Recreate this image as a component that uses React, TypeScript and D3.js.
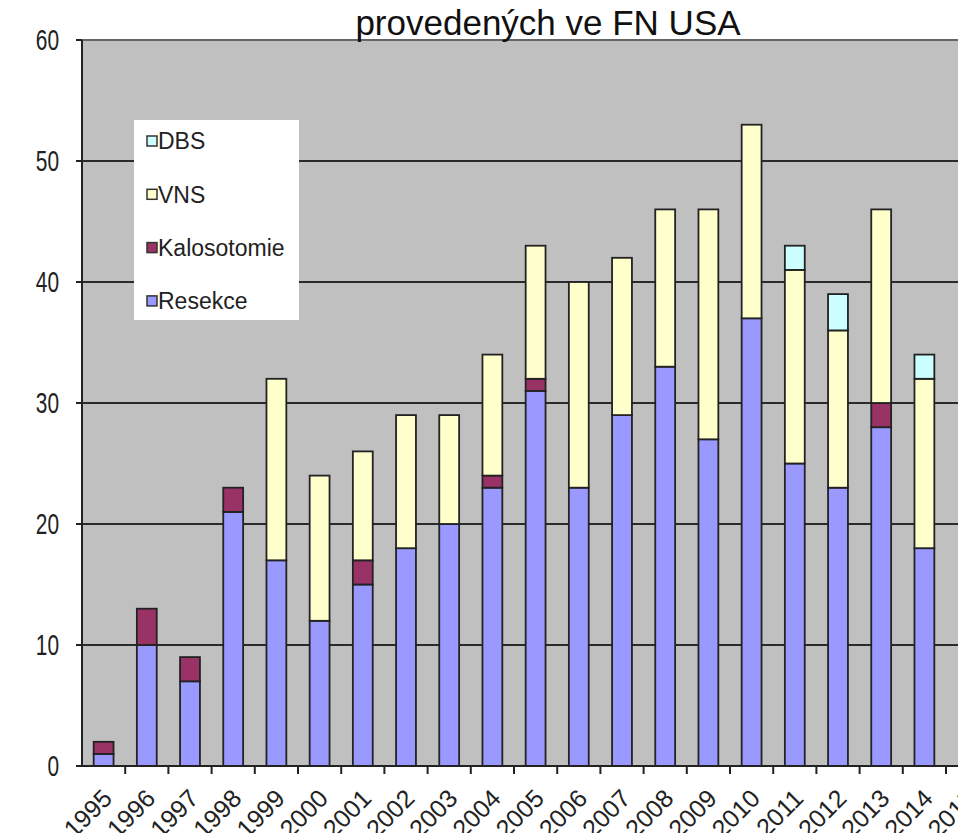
import React from "react";
import * as d3 from "d3";

// categories (2015 only shows as a cut-off label at the right edge)
const years = [
  "1995", "1996", "1997", "1998", "1999", "2000", "2001", "2002", "2003", "2004",
  "2005", "2006", "2007", "2008", "2009", "2010", "2011", "2012", "2013", "2014", "2015",
];

// series values
const resekce = [1, 10, 7, 21, 17, 12, 15, 18, 20, 23, 31, 23, 29, 33, 27, 37, 25, 23, 28, 18];
const kalosotomie = [1, 3, 2, 2, 0, 0, 2, 0, 0, 1, 1, 0, 0, 0, 0, 0, 0, 0, 2, 0];
const vns = [0, 0, 0, 0, 15, 12, 9, 11, 9, 10, 11, 17, 13, 13, 19, 16, 16, 13, 16, 14];
const dbs = [0, 0, 0, 0, 0, 0, 0, 0, 0, 0, 0, 0, 0, 0, 0, 0, 2, 3, 0, 2];

const seriesKeys = ["Resekce", "Kalosotomie", "VNS", "DBS"];
const seriesColors = ["#9999ff", "#993366", "#ffffcc", "#ccffff"];
const legendOrder = ["DBS", "VNS", "Kalosotomie", "Resekce"];

const yTicks = [0, 10, 20, 30, 40, 50, 60];
const title = "provedených ve FN USA";

const W = 958;
const H = 833;
const left = 82;
const top = 40;
const bottom = 766;
const step = 43.2;

export default function App() {
  const rows = resekce.map((_, i) => ({
    year: years[i],
    Resekce: resekce[i],
    Kalosotomie: kalosotomie[i],
    VNS: vns[i],
    DBS: dbs[i],
  }));

  const x = d3
    .scaleBand<string>()
    .domain(years)
    .range([left, left + step * years.length])
    .paddingInner(0.54)
    .paddingOuter(0.27);

  const y = d3.scaleLinear().domain([0, 60]).range([bottom, top]);
  const color = d3.scaleOrdinal<string, string>().domain(seriesKeys).range(seriesColors);

  const stacked = d3.stack<any>().keys(seriesKeys)(rows);

  const font = "'Liberation Sans', Arial, sans-serif";

  return (
    <svg
      width={W}
      height={H}
      style={{ position: "absolute", left: 0, top: 0, background: "#fff" }}
    >
      {/* plot background */}
      <rect x={left} y={top} width={W - left} height={bottom - top} fill="#c0c0c0" />

      {/* gridlines */}
      {yTicks.slice(1).map((t) => (
        <line
          key={t}
          x1={left}
          x2={W}
          y1={y(t)}
          y2={y(t)}
          stroke={t === 60 ? "#666" : "#2a2a2a"}
          strokeWidth={2}
        />
      ))}

      {/* bars */}
      {stacked.map((layer) => (
        <g key={layer.key} fill={color(layer.key)}>
          {layer.map((d, i) =>
            d[1] - d[0] > 0 ? (
              <rect
                key={i}
                x={x(d.data.year)}
                y={y(d[1])}
                width={x.bandwidth()}
                height={y(d[0]) - y(d[1])}
                stroke="#222"
                strokeWidth={1.8}
              />
            ) : null
          )}
        </g>
      ))}

      {/* y axis */}
      <line x1={left} x2={left} y1={top} y2={bottom} stroke="#222" strokeWidth={2} />
      {yTicks.map((t) => (
        <g key={t}>
          <line x1={left - 6} x2={left} y1={y(t)} y2={y(t)} stroke="#222" strokeWidth={2} />
          <text
            transform={`translate(59,${y(t)}) scale(0.72,1)`}
            dy="0.36em"
            textAnchor="end"
            fontFamily={font}
            fontSize={29}
            fill="#222"
          >
            {t}
          </text>
        </g>
      ))}

      {/* x axis */}
      <line x1={left - 6} x2={W} y1={bottom} y2={bottom} stroke="#222" strokeWidth={2} />
      {years.map((yr, i) => (
        <line
          key={yr}
          x1={left + step * (i + 1)}
          x2={left + step * (i + 1)}
          y1={bottom}
          y2={bottom + 8}
          stroke="#222"
          strokeWidth={2}
        />
      ))}
      {years.map((yr) => {
        const cx = (x(yr) as number) + x.bandwidth() / 2 + 10;
        const cy = bottom + 34;
        return (
          <text
            key={yr}
            transform={`translate(${cx},${cy}) rotate(-45)`}
            textAnchor="end"
            fontFamily={font}
            fontSize={25}
            fill="#222"
          >
            {yr}
          </text>
        );
      })}

      {/* legend */}
      <rect x={134} y={120} width={165} height={200} fill="#fff" />
      {legendOrder.map((k, i) => {
        const ly = 141 + i * 53.3;
        return (
          <g key={k}>
            <rect
              x={147}
              y={ly - 5}
              width={10}
              height={10}
              fill={color(k)}
              stroke="#333"
              strokeWidth={1.5}
            />
            <text x={158} y={ly} dy="0.36em" fontFamily={font} fontSize={23} fill="#222">
              {k}
            </text>
          </g>
        );
      })}

      {/* title */}
      <text
        x={548}
        y={35}
        textAnchor="middle"
        fontFamily={font}
        fontSize={35}
        fill="#111"
      >
        {title}
      </text>
    </svg>
  );
}
